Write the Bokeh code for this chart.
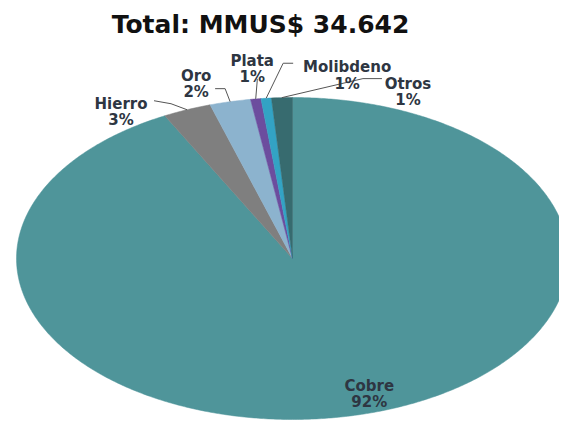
import numpy as np
from bokeh.plotting import figure
from bokeh.models import Range1d
from bokeh.core.properties import value
from bokeh.embed import file_html
from bokeh.resources import INLINE

# ---- data (MMUS$) ----
categories = ["Cobre", "Hierro", "Oro", "Plata", "Molibdeno", "Otros"]
values_mmus = [31990, 980, 830, 210, 210, 422]
colors = ["#4F959A", "#7F7F7F", "#8CB3CE", "#6C4D9E", "#33A3C4", "#376B6F"]
title_text = "Total: MMUS$ 34.642"

# ---- layout / style (page-pixel space, y downwards) ----
W, H = 559, 421
CX, CY, RX, RY = 292.0, 258.0, 276.0, 161.0
# label offsets relative to the slice anchor: (dx, dy of first baseline)
label_off = {
    "Cobre": (11, -29), "Hierro": (-66, -6), "Oro": (-34, -26),
    "Plata": (-3.5, -38), "Molibdeno": (81, -31), "Otros": (126, -14),
}
# leader polyline offsets relative to anchor (elbow, end)
leader_off = {
    "Hierro": [(-16, -6), (-33, -9)],
    "Oro": [(-5, -13), (-15, -13)],
    "Plata": [(1.5, -18), (1.5, -20)],
    "Molibdeno": [(17, -35), (27, -35)],
    "Otros": [(81, -19), (100, -19)],
}
LINE_GAP = 16.5

p = figure(width=W, height=H, output_backend="svg", toolbar_location=None,
           x_range=Range1d(0, W), y_range=Range1d(H, 0),
           x_axis_type=None, y_axis_type=None, min_border=0)
p.grid.visible = False
p.outline_line_color = None
p.background_fill_color = "white"


def pt(f):
    a = 2 * np.pi * f
    return CX + RX * np.sin(a), CY - RY * np.cos(a)


total = float(sum(values_mmus))
fracs = [v / total for v in values_mmus]
starts = np.concatenate([[0.0], np.cumsum(fracs)[:-1]])

xs, ys = [], []
anchors = {}
for cat, f0, fr in zip(categories, starts, fracs):
    n = max(8, int(fr * 720))
    ff = np.linspace(f0, f0 + fr, n)
    px, py = pt(ff)
    xs.append([CX] + list(px))
    ys.append([CY] + list(py))
    anchors[cat] = pt(f0 + fr / 2)

p.patches(xs=xs, ys=ys, fill_color=colors, line_color=colors, line_width=0.5)

# leader lines
lx, ly = [], []
for cat, offs in leader_off.items():
    ax, ay = anchors[cat]
    lx.append([ax] + [ax + d[0] for d in offs])
    ly.append([ay] + [ay + d[1] for d in offs])
p.multi_line(xs=lx, ys=ly, line_color="#555555", line_width=1)

# labels
tx, ty, tt = [], [], []
for cat, fr in zip(categories, fracs):
    ax, ay = anchors[cat]
    dx, dy = label_off[cat]
    tx += [ax + dx, ax + dx]
    ty += [ay + dy, ay + dy + LINE_GAP]
    tt += [cat, f"{round(100 * fr)}%"]
p.text(x=tx, y=ty, text=tt, text_font=value("DejaVu Sans"), text_font_style="bold",
       text_font_size="15px", text_align="center", text_baseline="alphabetic",
       text_color="#2E3642")

# title
p.text(x=[260], y=[24], text=[title_text], text_font=value("DejaVu Sans"),
       text_font_style="bold", text_font_size="25px", text_align="center",
       text_baseline="alphabetic", text_color="#111111")

open("out.html", "w").write(file_html(p, INLINE))
